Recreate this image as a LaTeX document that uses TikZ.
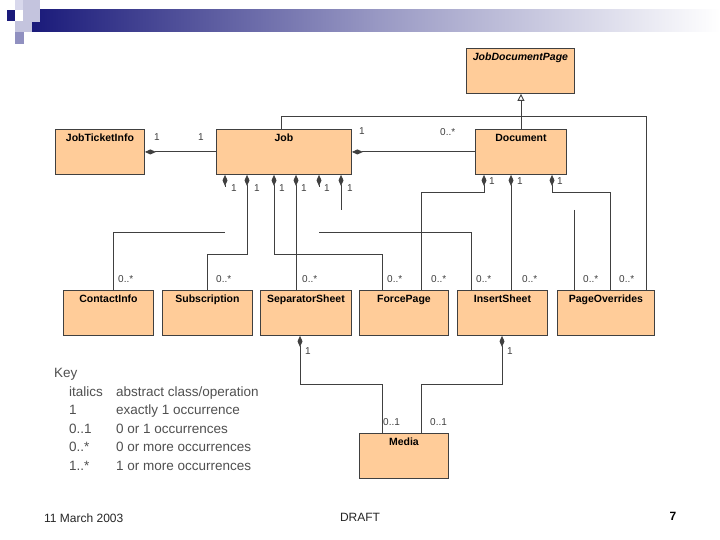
\documentclass[tikz,border=0pt]{standalone}
\usepackage{fontspec}
\setmainfont{Liberation Sans}
\usetikzlibrary{arrows.meta}
\definecolor{peach}{HTML}{FFCC99}
\definecolor{linec}{HTML}{404040}
\definecolor{keyc}{HTML}{505050}
\definecolor{navy}{HTML}{1A1A7A}
\definecolor{lav1}{HTML}{D8D8EC}
\definecolor{lav2}{HTML}{C4C4DE}
\definecolor{lav3}{HTML}{9090C0}
\tikzset{
  umlclass/.style={draw=linec, fill=peach, line width=0.9pt, minimum width=#1,
    minimum height=45pt, anchor=north west, inner sep=0pt},
  cname/.style={anchor=north, yshift=-5pt, inner sep=0pt, text height=7.5pt, text depth=2pt,
    font=\bfseries\fontsize{10.5}{12}\selectfont},
  conn/.style={draw=linec, line width=0.9pt},
  dia/.tip={Diamond[length=11pt,width=5pt,fill=linec]},
  gen/.tip={Triangle[open,length=7pt,width=7pt,fill=white]},
  mult/.style={anchor=west, inner sep=0pt, font=\fontsize{10}{12}\selectfont, text=linec},
  keytxt/.style={anchor=base west, inner sep=0pt, font=\fontsize{13.5}{16}\selectfont, text=keyc},
}
\begin{document}
\begin{tikzpicture}[x=1pt,y=-1pt]
\useasboundingbox (0,0) rectangle (720,540);
% Slide header
\fill[white] (0,0) rectangle (720,540);
\shade[left color=navy, right color=white, middle color=navy!45] (32,10) rectangle (720,32);
\fill[lav1] (15,0) rectangle (23,10);
\fill[lav2] (23,0) rectangle (40,22);
\fill[navy] (7,10) rectangle (15,21);
\fill[lav2] (15,21) rectangle (32,32);
\fill[lav3] (15,32) rectangle (24,44);
% Classes
\node[umlclass=108pt, label={[cname, font=\bfseries\itshape\fontsize{10.5}{12}\selectfont]north:JobDocumentPage}] (jdp) at (466,48) {};
\node[umlclass=89pt, label={[cname]north:JobTicketInfo}] (ticket) at (55,129) {};
\node[umlclass=135pt, label={[cname]north:Job}] (job) at (216,129) {};
\node[umlclass=91pt, label={[cname]north:Document}] (doc) at (475,129) {};
\node[umlclass=90pt, label={[cname]north:ContactInfo}] (contact) at (63,290) {};
\node[umlclass=90pt, label={[cname]north:Subscription}] (subscr) at (162,290) {};
\node[umlclass=91pt, label={[cname]north:SeparatorSheet}] (sepsheet) at (260,290) {};
\node[umlclass=89pt, label={[cname]north:ForcePage}] (forcepg) at (359,290) {};
\node[umlclass=90pt, label={[cname]north:InsertSheet}] (insheet) at (457,290) {};
\node[umlclass=97pt, label={[cname]north:PageOverrides}] (pageovr) at (557,290) {};
\node[umlclass=89pt, label={[cname]north:Media}] (media) at (359,433) {};
% Top row compositions
\draw[conn, dia-] (ticket.east) -- (job.west);
\draw[conn, dia-] (job.east) -- (doc.west);
% Generalization to JobDocumentPage
\draw[conn, -gen] (doc.north) -- (doc.north |- jdp.south);
\draw[conn] (281,0 |- job.north) -- (281,116) -- (646,116) -- (646,0 |- pageovr.north);
% Job parts
\draw[conn, dia-] (225,0 |- job.south) -- ++(0,12);
\draw[conn] (113,0 |- contact.north) -- (113,232) -- (225,232);
\draw[conn, dia-] (247,0 |- job.south) -- (247,254) -- (subscr.north |- 0,254) -- (subscr.north);
\draw[conn, dia-] (274,0 |- job.south) -- (274,254) -- (382,254) -- (382,0 |- forcepg.north);
\draw[conn, dia-] (296,0 |- job.south) -- (296,0 |- sepsheet.north);
\draw[conn, dia-] (319,0 |- job.south) -- ++(0,12);
\draw[conn] (319,232) -- (471,232) -- (471,0 |- insheet.north);
\draw[conn, dia-] (341,0 |- job.south) -- (341,210);
\draw[conn] (574,210) -- (574,0 |- pageovr.north);
% Document parts
\draw[conn, dia-] (484,0 |- doc.south) -- (484,192) -- (421,192) -- (421,0 |- forcepg.north);
\draw[conn, dia-] (511,0 |- doc.south) -- (511,0 |- insheet.north);
\draw[conn, dia-] (552,0 |- doc.south) -- (552,192) -- (610,192) -- (610,0 |- pageovr.north);
% Media
\draw[conn, dia-] (300,0 |- sepsheet.south) -- (300,384) -- (382,384) -- (382,0 |- media.north);
\draw[conn, dia-] (502,0 |- insheet.south) -- (502,384) -- (421,384) -- (421,0 |- media.north);
% Multiplicities
\foreach \x/\y/\t [count=\i] in {154/137/1, 198/137/1, 359/131/1, 440/132/0..*,
  231/188/1, 254/188/1, 279/188/1, 301/188/1, 324/188/1, 347/188/1,
  489/181/1, 517/181/1, 557/181/1,
  118/279/0..*, 216/279/0..*, 302/279/0..*, 387/279/0..*, 431/279/0..*,
  476/279/0..*, 522/279/0..*, 583/279/0..*, 619/279/0..*,
  305/351/1, 507/351/1, 383/422/0..1, 430/422/0..1}
  \node[mult] (m\i) at (\x,\y) {\t};
% Key
\node[keytxt] (keyhd) at (54,377) {Key};
\foreach \a/\b/\yy [count=\i] in {italics/{abstract class/operation}/396,
  1/{exactly 1 occurrence}/414.6, 0..1/{0 or 1 occurrences}/433.2,
  0..*/{0 or more occurrences}/451.8, 1..*/{1 or more occurrences}/470.4} {
  \node[keytxt] (ka\i) at (69,\yy) {\a};
  \node[keytxt] (kb\i) at (116,\yy) {\b};
}
% Footer
\node[anchor=west, inner sep=0pt, font=\fontsize{12}{14}\selectfont, text=black!85] (date) at (44,518) {11 March 2003};
\node[inner sep=0pt, font=\fontsize{12}{14}\selectfont, text=black!85] (draft) at (360,517) {DRAFT};
\node[inner sep=0pt, font=\bfseries\fontsize{12}{14}\selectfont] (pgno) at (673,516) {7};
\end{tikzpicture}
\end{document}
